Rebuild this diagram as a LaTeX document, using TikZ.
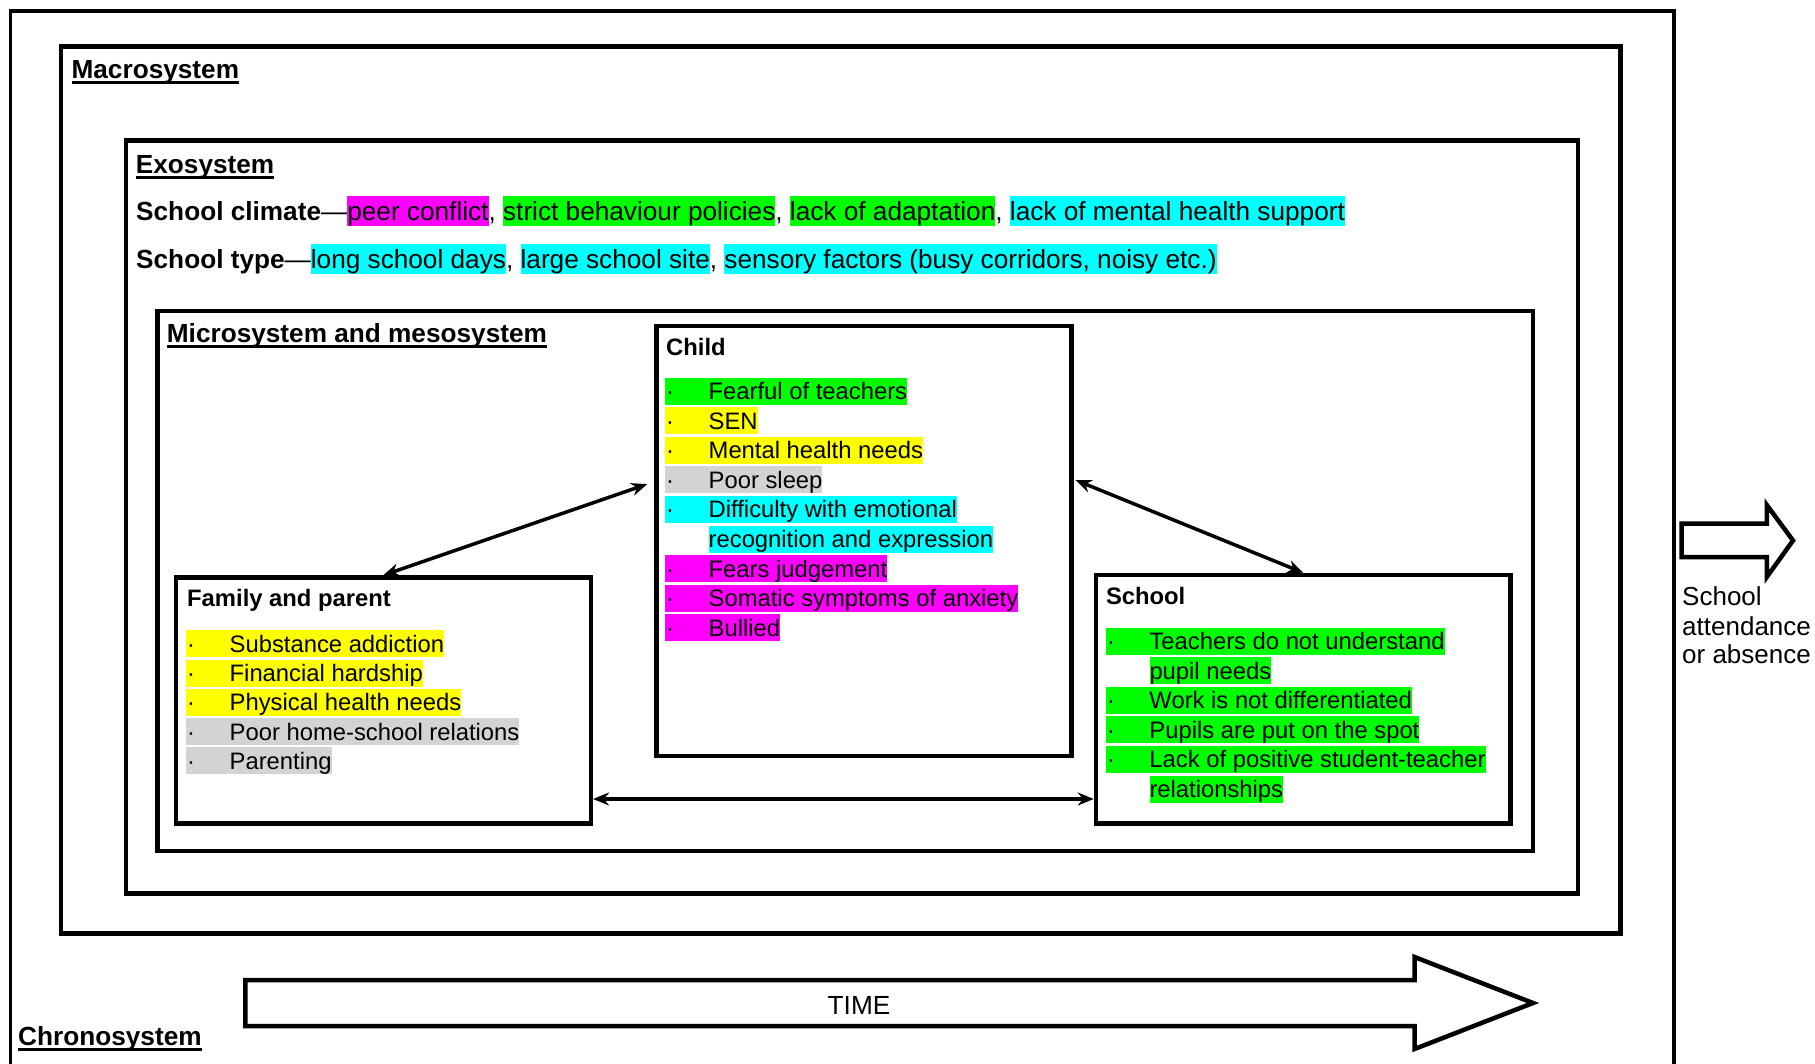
\documentclass[tikz,border=0pt]{standalone}
\usepackage{fontspec}
\setmainfont{Liberation Sans}
\usetikzlibrary{arrows.meta}
\definecolor{hlgreen}{RGB}{0,255,0}
\definecolor{hlyellow}{RGB}{255,255,0}
\definecolor{hlgray}{RGB}{211,211,211}
\definecolor{hlcyan}{RGB}{0,255,255}
\definecolor{hlmagenta}{RGB}{255,0,255}
\newcommand\hlx[2]{{\setlength{\fboxsep}{0pt}\colorbox{#1}{\rule[-0.21em]{0pt}{1.135em}#2}}}
\newcommand\bul[2]{\hlx{#1}{\makebox[43.5pt][l]{\hspace{1pt}·}#2}}
\newcommand\cont[2]{\hspace*{43.5pt}\hlx{#1}{#2}}
\newcommand\ulx[1]{\setbox0=\hbox{#1}\leavevmode\rlap{\rule[-5.5pt]{\wd0}{3pt}}\box0}
\begin{document}
\begin{tikzpicture}[x=1pt,y=-1pt,
  sysbox/.style={draw,line width=4.5pt,inner sep=0pt},
  syshead/.style={anchor=base west,inner sep=0pt,font=\fontsize{26.2}{30}\selectfont\bfseries},
  boxtitle/.style={anchor=base west,inner sep=0pt,font=\fontsize{23.8}{28}\selectfont\bfseries},
  itemlist/.style={anchor=north west,inner sep=0pt,align=left,font=\fontsize{23.8}{29.6}\selectfont},
  exotext/.style={anchor=base west,inner sep=0pt,font=\fontsize{26.2}{30}\selectfont},
  plaintext/.style={anchor=base west,inner sep=0pt,font=\fontsize{26}{30}\selectfont},
  conn/.style={line width=3.5pt,{Stealth[length=16pt,width=13pt]}-{Stealth[length=16pt,width=13pt]}},
  bigarrow/.style={line width=4.5pt,line join=miter}
]
\useasboundingbox (0,0) rectangle (1815,1064);
% chronosystem frame (open at the bottom)
\draw[line width=3.5pt] (10.3,1070) -- (10.3,11) -- (1674,11) -- (1674,1070);
% nested boxes
\node[sysbox,minimum width=1559.3pt,minimum height=887.2pt] (macro) at (840.85,489.9) {};
\node[sysbox,minimum width=1452pt,minimum height=752.8pt] (exo) at (852.1,516.9) {};
\node[sysbox,minimum width=1375.9pt,minimum height=540pt] (micro) at (845.25,581) {};
\node[sysbox,minimum width=414.8pt,minimum height=429.8pt] (child) at (863.9,541.1) {};
\node[sysbox,minimum width=415pt,minimum height=245.8pt] (fam) at (383.3,700.4) {};
\node[sysbox,minimum width=414.6pt,minimum height=248.7pt] (school) at (1303.3,699.35) {};
% headings
\node[syshead] (mach) at (71.4,78.2) {\ulx{Macrosystem}};
\node[syshead] (exoh) at (135.7,173.3) {\ulx{Exosystem}};
\node[syshead] (mich) at (166.7,342.3) {\ulx{Microsystem and mesosystem}};
\node[syshead] (chroh) at (18,1045.5) {\ulx{Chronosystem}};
% exosystem lines
\node[exotext] (climate) at (136,220.5) {\textbf{School climate}—\hlx{hlmagenta}{peer conflict}, \hlx{hlgreen}{strict behaviour policies}, \hlx{hlgreen}{lack of adaptation}, \hlx{hlcyan}{lack of mental health support}};
\node[exotext] (stype) at (136,268.6) {\textbf{School type}—\hlx{hlcyan}{long school days}, \hlx{hlcyan}{large school site}, \hlx{hlcyan}{sensory factors (busy corridors, noisy etc.)}};
% box titles
\node[boxtitle] (childt) at (666,355.7) {Child};
\node[boxtitle] (famt) at (187,606.7) {Family and parent};
\node[boxtitle] (scht) at (1105.8,604.3) {School};
% lists
\node[itemlist] (childlist) at (665,377.3) {\bul{hlgreen}{Fearful of teachers}\\%
\bul{hlyellow}{SEN}\\%
\bul{hlyellow}{Mental health needs}\\%
\bul{hlgray}{Poor sleep}\\%
\bul{hlcyan}{Difficulty with emotional}\\%
\cont{hlcyan}{recognition and expression}\\%
\bul{hlmagenta}{Fears judgement}\\%
\bul{hlmagenta}{Somatic symptoms of anxiety}\\%
\bul{hlmagenta}{Bullied}};
\node[itemlist,font=\fontsize{23.8}{29.3}\selectfont] (famlist) at (186,630) {\bul{hlyellow}{Substance addiction}\\%
\bul{hlyellow}{Financial hardship}\\%
\bul{hlyellow}{Physical health needs}\\%
\bul{hlgray}{Poor home-school relations}\\%
\bul{hlgray}{Parenting}};
\node[itemlist] (schlist) at (1105.8,627.3) {\bul{hlgreen}{Teachers do not understand}\\%
\cont{hlgreen}{pupil needs}\\%
\bul{hlgreen}{Work is not differentiated}\\%
\bul{hlgreen}{Pupils are put on the spot}\\%
\bul{hlgreen}{Lack of positive student-teacher}\\%
\cont{hlgreen}{relationships}};
% connectors
\draw[conn] ([xshift=-7pt,yshift=57pt]child.west) -- (fam.north);
\draw[conn] ([xshift=2pt,yshift=61pt]child.east) -- (school.north);
\draw[conn] ([yshift=-98.6pt]fam.east) -- ([yshift=-98.6pt]fam.east -| school.west);
% time arrow
\draw[bigarrow] (245.3,980) -- (1414.5,980) -- (1414.5,957) -- (1533,1003) -- (1414.5,1049) -- (1414.5,1026) -- (245.3,1026) -- cycle;
\node[font=\fontsize{26.2}{30}\selectfont,inner sep=0pt] (time) at (859,1005.8) {TIME};
% outcome arrow
\draw[bigarrow] (1681.5,523.7) -- (1766.8,523.7) -- (1766.8,505) -- (1793,540.5) -- (1766.8,577) -- (1766.8,557) -- (1681.5,557) -- cycle;
\node[plaintext] (out1) at (1682,605) {School};
\node[plaintext] (out2) at (1682,635) {attendance};
\node[plaintext] (out3) at (1682,663.5) {or absence};
\end{tikzpicture}
\end{document}
